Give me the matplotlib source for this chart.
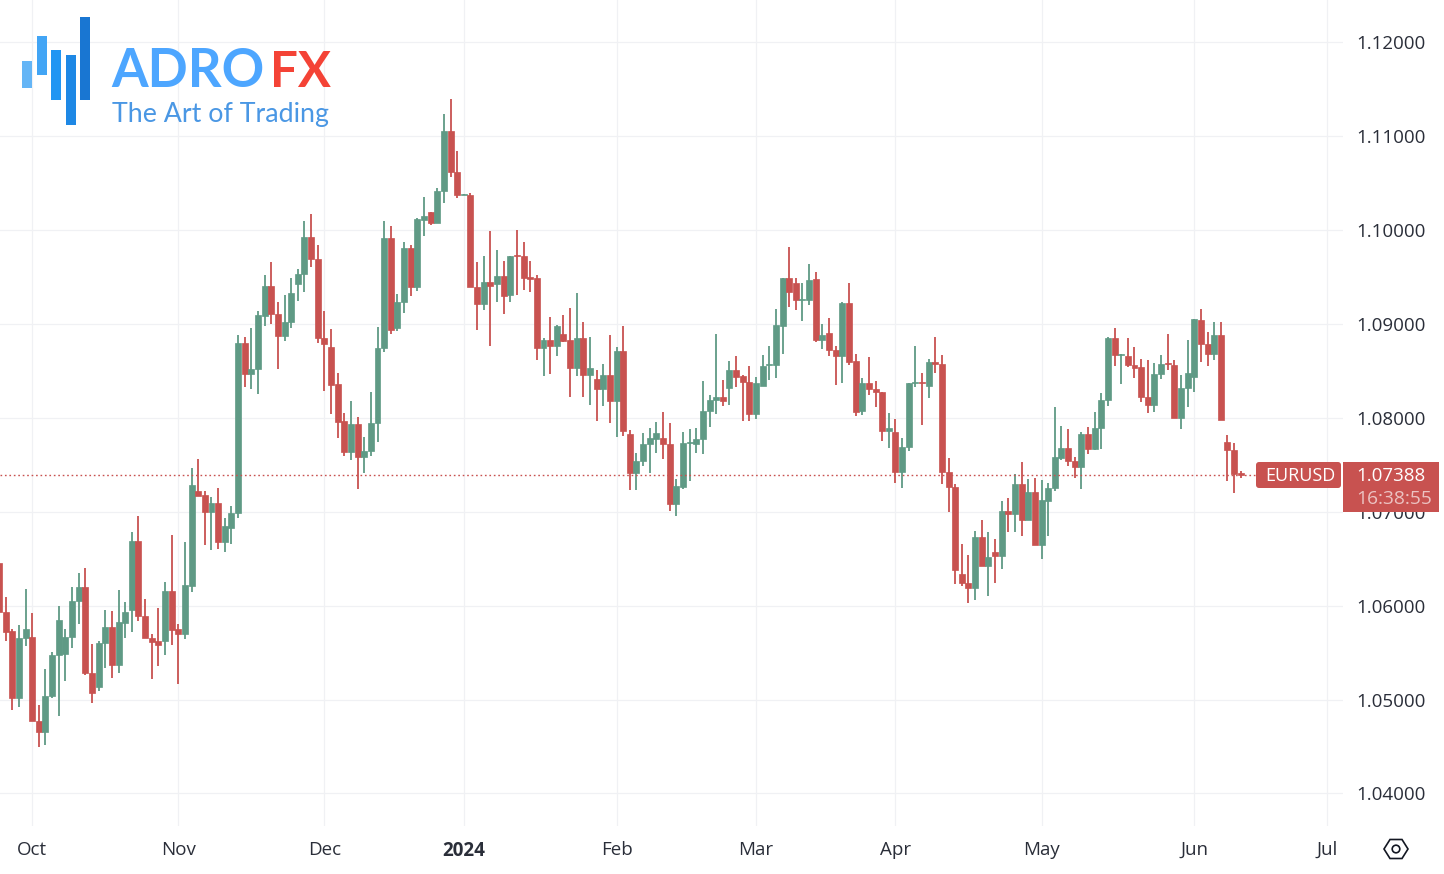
import matplotlib
matplotlib.use("Agg")
import matplotlib.pyplot as plt
from matplotlib.patches import Rectangle, FancyBboxPatch, Circle, Polygon
import numpy as np

# Daily EURUSD candles, prices in units of 0.0001
open_ = [10645,10593,10573,10502,10566,10567,10477,10465,10504,10547,
10548,10567,10605,10620,10528,10513,10560,10577,10537,10581,
10595,10669,10589,10566,10562,10562,10616,10575,10570,10621,
10722,10718,10700,10709,10668,10683,10699,10880,10847,10852,
10908,10940,10910,10887,10902,10942,10953,10992,10969,10885,
10875,10836,10797,10764,10793,10758,10765,10794,10874,10991,
10896,10923,10981,10939,11011,11019,11007,11041,11105,11062,
11037,11037,10939,10921,10945,10942,10951,10931,10973,10972,
10950,10949,10874,10883,10876,10889,10883,10853,10885,10845,
10841,10831,10845,10818,10871,10783,10741,10754,10772,10777,
10778,10772,10708,10726,10773,10772,10777,10807,10819,10822,
10832,10851,10844,10838,10804,10834,10856,10856,10898,10949,
10943,10925,10925,10948,10883,10890,10872,10866,10922,10860,
10807,10837,10831,10827,10786,10785,10742,10769,10837,10838,
10834,10859,10857,10742,10726,10634,10624,10619,10673,10642,
10657,10653,10701,10698,10730,10691,10721,10665,10711,10725,
10757,10768,10754,10748,10783,10767,10789,10819,10885,10867,
10866,10856,10854,10822,10814,10847,10858,10856,10800,10832,
10843,10904,10879,10868,10888,10774,10766,10741]
high = [10645,10609,10575,10579,10618,10592,10494,10533,10551,10600,
10575,10620,10635,10640,10559,10562,10595,10594,10617,10604,
10678,10695,10607,10570,10597,10625,10675,10580,10668,10746,
10756,10722,10716,10725,10693,10706,10888,10886,10896,10914,
10952,10966,10923,10931,10949,10958,11009,11017,10984,10914,
10895,10848,10805,10818,10801,10780,10827,10897,11009,11004,
10932,10987,10984,11013,11035,11019,11045,11123,11139,11084,
11038,11039,10966,10972,10999,10979,10967,10972,11000,10987,
10967,10952,10885,10907,10899,10909,10917,10933,10902,10886,
10851,10857,10888,10875,10898,10787,10762,10784,10789,10796,
10806,10794,10735,10785,10788,10789,10839,10824,10889,10840,
10860,10866,10845,10855,10843,10867,10876,10916,10949,10982,
10949,10943,10964,10955,10900,10906,10876,10923,10943,10868,
10842,10865,10839,10827,10805,10799,10778,10837,10876,10848,
10863,10886,10867,10757,10730,10666,10654,10679,10691,10678,
10671,10711,10715,10740,10753,10735,10736,10734,10731,10811,
10791,10788,10758,10785,10790,10806,10826,10886,10896,10868,
10885,10875,10863,10861,10858,10867,10889,10861,10845,10883,
10905,10916,10891,10902,10902,10782,10773,10743]
low = [10591,10562,10489,10492,10557,10477,10450,10452,10502,10483,
10520,10555,10580,10526,10496,10509,10534,10523,10528,10566,
10572,10584,10566,10522,10536,10547,10558,10517,10564,10614,
10717,10665,10659,10660,10657,10666,10693,10833,10831,10825,
10898,10900,10852,10882,10896,10924,10934,10961,10880,10829,
10804,10778,10759,10755,10724,10741,10759,10774,10870,10889,
10892,10912,10930,10935,10994,11005,11007,11029,11056,11034,
11037,10939,10893,10915,10876,10923,10910,10923,10931,10936,
10934,10861,10844,10847,10866,10881,10822,10844,10822,10814,
10797,10812,10794,10780,10781,10723,10723,10749,10741,10762,
10756,10701,10695,10724,10733,10762,10761,10790,10804,10812,
10814,10833,10797,10797,10799,10834,10840,10842,10868,10918,
10915,10903,10920,10881,10873,10866,10835,10837,10856,10802,
10803,10824,10811,10775,10768,10731,10725,10765,10833,10792,
10821,10848,10730,10700,10623,10621,10603,10606,10642,10610,
10624,10639,10678,10678,10674,10691,10665,10650,10674,10722,
10755,10749,10736,10724,10761,10766,10767,10812,10855,10836,
10854,10842,10817,10805,10806,10841,10851,10800,10788,10811,
10827,10859,10855,10861,10798,10733,10720,10736]
close = [10593,10572,10502,10566,10575,10477,10465,10504,10547,10585,
10567,10605,10620,10528,10507,10560,10577,10537,10583,10593,
10669,10589,10566,10561,10558,10616,10574,10570,10622,10728,
10717,10700,10709,10668,10685,10699,10880,10847,10852,10909,
10940,10910,10887,10902,10933,10953,10992,10969,10885,10879,
10835,10796,10764,10793,10758,10765,10794,10874,10991,10893,
10923,10981,10939,11012,11015,11007,11041,11105,11062,11037,
11038,10939,10921,10945,10940,10951,10930,10972,10972,10949,
10948,10874,10883,10876,10898,10882,10853,10885,10845,10853,
10831,10845,10818,10871,10786,10741,10754,10772,10778,10784,
10772,10708,10727,10773,10774,10777,10807,10819,10822,10818,
10851,10843,10838,10804,10837,10855,10857,10899,10949,10934,
10925,10926,10947,10883,10888,10872,10866,10922,10859,10806,
10837,10831,10827,10786,10789,10742,10769,10837,10838,10837,
10859,10857,10742,10726,10638,10624,10619,10673,10642,10652,
10653,10701,10698,10730,10691,10721,10665,10712,10725,10758,
10768,10754,10748,10783,10767,10789,10819,10885,10867,10868,
10856,10853,10822,10814,10847,10857,10857,10800,10832,10848,
10905,10879,10868,10888,10798,10766,10740,10739]

month_pos = [5, 27, 49, 70, 93, 114, 135, 157, 180, 200]
month_labels = ["Oct", "Nov", "Dec", "2024", "Feb", "Mar", "Apr", "May", "Jun", "Jul"]
price_ticks = [1.04, 1.05, 1.06, 1.07, 1.08, 1.09, 1.10, 1.11, 1.12]
last_price = 1.07388
symbol = "EURUSD"
countdown = "16:38:55"

UP = "#5f9a85"
DOWN = "#c85250"
GRID = "#f0f1f4"
TEXT = "#2a2e39"
FONT = "Open Sans"

o, h, l, c = (np.array(a) / 1e4 for a in (open_, high, low, close))
x = np.arange(len(o))
colors = [UP if ci >= oi else DOWN for oi, ci in zip(o, c)]

W, H = 1444, 874
fig = plt.figure(figsize=(W / 100, H / 100), dpi=100, facecolor="white")
ax = fig.add_axes([0, 48 / H, 1343 / W, 826 / H], zorder=1)
ax.set_xlim(0.15, 202.4)
ax.set_ylim(1.03654, 1.12447)
for s in ax.spines.values():
    s.set_visible(False)

ax.set_axisbelow(True)
ax.grid(True, color=GRID, lw=0.9)
ax.set_xticks(month_pos)
ax.set_xticklabels(month_labels, fontfamily=FONT, fontsize=13.5, color=TEXT)
ax.get_xticklabels()[3].set_fontweight("bold")
ax.set_yticks(price_ticks)
ax.set_yticklabels([f"{p:.5f}" for p in price_ticks], fontfamily=FONT, fontsize=13.5, color=TEXT)
ax.yaxis.tick_right()
ax.tick_params(axis="y", length=0, pad=9.4)
ax.tick_params(axis="x", length=0, pad=11)

ax.vlines(x, l, h, colors=colors, lw=1.3, zorder=3)
ax.bar(x, np.abs(c - o), bottom=np.minimum(o, c), width=0.9, color=colors,
       edgecolor=colors, lw=0.5, zorder=4)
ax.axhline(last_price, xmax=1256 / 1343, color=DOWN, lw=1.0, ls=(0, (1.2, 2.0)), zorder=5)

# Overlay in pixel units for the logo, price tags and settings icon
ov = fig.add_axes([0, 0, 1, 1], zorder=5)
ov.set_xlim(0, W)
ov.set_ylim(H, 0)
ov.axis("off")
ov.patch.set_alpha(0)

logo_bars = [(22, 32, 61, 88, "#64b5f6"), (36.5, 46.5, 36, 75, "#42a5f5"),
             (51, 61, 50, 100, "#2196f3"), (66, 75.5, 55, 125, "#1e88e5"),
             (80, 90, 17, 100, "#1976d2")]
for x0, x1, y0, y1, col in logo_bars:
    ov.add_patch(Rectangle((x0, y0), x1 - x0, y1 - y0, color=col, lw=0))
ov.text(111, 87, "ADRO", fontfamily="Lato", fontweight="bold", fontsize=38,
        color="#4da6ff", va="baseline", ha="left")
ov.text(270, 87, "FX", fontfamily="Lato", fontweight="bold", fontsize=35.5,
        color="#f44336", va="baseline", ha="left")
ov.text(112, 122, "The Art of Trading", fontfamily="Lato", fontsize=19.3,
        color="#4a97e4", va="baseline", ha="left")

ov.add_patch(FancyBboxPatch((1258, 464), 81, 22, boxstyle="round,pad=2,rounding_size=3",
                            fc=DOWN, ec="none"))
ov.add_patch(Rectangle((1343, 462), 96, 50, fc=DOWN, ec="none"))
ov.text(1300, 476, symbol, fontfamily=FONT, fontsize=13, fontweight="medium", color="white",
        ha="center", va="center")
ov.text(1391, 476, f"{last_price:.5f}", fontfamily=FONT, fontsize=13.5, color="white",
        ha="center", va="center")
ov.text(1394.5, 499, countdown, fontfamily=FONT, fontsize=13.8, color="white", alpha=0.65,
        ha="center", va="center")

hexagon = [(1384, 849), (1390, 839.5), (1402, 839.5), (1408, 849), (1402, 858.5), (1390, 858.5)]
ov.add_patch(Polygon(hexagon, closed=True, fc="none", ec="#131722", lw=1.2))
ov.add_patch(Circle((1396, 849), 3.8, fc="none", ec="#131722", lw=1.2))

fig.savefig("out.png", dpi=100, facecolor="white")
